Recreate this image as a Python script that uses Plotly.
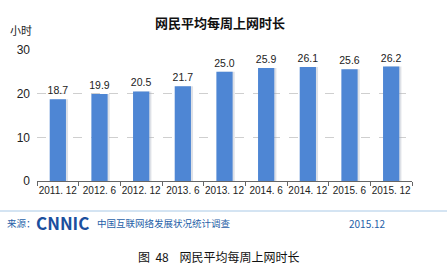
import plotly.graph_objects as go

categories = ["2011. 12", "2012. 6", "2012. 12", "2013. 6", "2013. 12", "2014. 6", "2014. 12", "2015. 6", "2015. 12"]
hours = [18.7, 19.9, 20.5, 21.7, 25.0, 25.9, 26.1, 25.6, 26.2]
y_ticks = [0, 10, 20, 30]

bar_w = 0.39
fig = go.Figure()
# soft shadow behind bars
fig.add_trace(go.Bar(x=categories, y=hours, width=bar_w, offset=-bar_w / 2 + 0.05,
                     marker=dict(color="rgba(160,170,185,0.35)", line=dict(width=0)),
                     hoverinfo="skip", showlegend=False))
fig.add_trace(go.Bar(x=categories, y=hours, width=bar_w, offset=-bar_w / 2,
                     marker=dict(color="#4e86d4", line=dict(width=0)),
                     text=[f"{v:.1f}" for v in hours], textposition="outside",
                     constraintext="none",
                     textfont=dict(size=10.5, color="#222", family="Liberation Sans, Arial"),
                     cliponaxis=False, showlegend=False))

fig.update_layout(
    width=447, height=273,
    margin=dict(l=37, r=35, t=50, b=92),
    paper_bgcolor="white", plot_bgcolor="white",
    barmode="overlay",
    font=dict(family="Liberation Sans, Arial, Noto Sans CJK SC", color="#222"),
    xaxis=dict(type="category", showgrid=False, showline=True, linecolor="#666", linewidth=1,
               ticks="outside", tickson="boundaries", ticklen=4, tickcolor="#666",
               tickangle=0, tickfont=dict(size=10, color="#222"), range=[-0.5, 8.5]),
    yaxis=dict(range=[0, 30], tickvals=y_ticks, showgrid=True, gridcolor="#cfcfcf",
               griddash="dash", gridwidth=1, zeroline=False, showline=False,
               ticks="", ticklabelstandoff=6, tickfont=dict(size=12, color="#222")),
    shapes=[dict(type="line", xref="paper", yref="paper", x0=-37/375, x1=1 + 35/375,
                 y0=-30/131, y1=-30/131, line=dict(color="#a9c9e6", width=1))],
)

annotations = [
    dict(text="<b>网民平均每周上网时长</b>", px=220, py=22, size=13, color="#111", xanchor="center"),
    dict(text="小时", px=8, py=30, size=11, color="#222", xanchor="left"),
    dict(text="来源：", px=5, py=223, size=9.5, color="#1f5fa8", xanchor="left"),
    dict(text="<b>CNNIC</b>", px=34, py=222, size=17, color="#1b4f9e", xanchor="left"),
    dict(text="中国互联网络发展状况统计调查", px=95, py=223, size=9.5, color="#1f5fa8", xanchor="left"),
    dict(text="2015.12", px=347, py=223, size=10, color="#1f5fa8", xanchor="left"),
    dict(text="图  48    网民平均每周上网时长", px=218, py=256, size=12, color="#111", xanchor="center"),
]
L, T, W, H = 37, 50, 375, 131
for a in annotations:
    fig.add_annotation(text=a["text"], xref="paper", yref="paper",
                       x=(a["px"] - L) / W, y=1 - (a["py"] - T) / H,
                       xanchor=a["xanchor"], yanchor="middle", showarrow=False,
                       font=dict(size=a["size"], color=a["color"],
                                 family="Noto Sans CJK SC, Liberation Sans"))

fig.write_html("out.html")
